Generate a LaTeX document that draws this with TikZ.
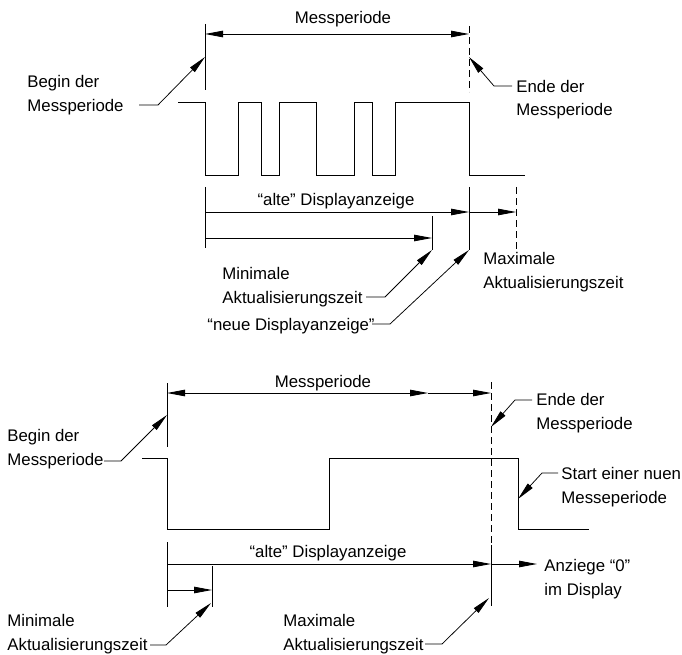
\documentclass[tikz,border=0pt]{standalone}
\usepackage{fontspec}
\setmainfont{Liberation Sans}
\usetikzlibrary{arrows.meta}
\begin{document}
\begin{tikzpicture}[x=1pt,y=-1pt,
  line width=0.85pt,
  lbl/.style={inner sep=0pt, align=left, anchor=base west, font=\fontsize{16.8}{23.5}\selectfont},
  ctr/.style={inner sep=0pt, anchor=base, font=\fontsize{16.8}{23.5}\selectfont},
  tip/.style={-{Triangle[length=18pt,width=6.5pt]}},
  dtip/.style={{Triangle[length=18pt,width=6.5pt]}-{Triangle[length=18pt,width=6.5pt]}},
  leader/.style={line width=0.75pt,-{Triangle[length=18pt,width=6.5pt]}},
  dashln/.style={dash pattern=on 7pt off 4pt}
]
\useasboundingbox (0,0) rectangle (682,655);

% ================= TOP DIAGRAM =================
\coordinate (tL1) at (205,24);  \coordinate (tL2) at (205,90);
\coordinate (tR1) at (469,26);  \coordinate (tR2) at (469,92);
\draw (tL1) -- (tL2);
\draw[dashln] (tR1) -- (tR2);
\coordinate (tMa) at (205,34);  \coordinate (tMb) at (469,34);
\draw[dtip] (tMa) -- (tMb);
\node[ctr] (tMtxt) at (343,24) {Messperiode};

% signal
\draw (178,102) -| (205,175) -| (238,102) -| (261,175) -| (279,102)
      -| (316,175) -| (354,102) -| (372,175) -| (395,102) -| (469,175) -- (525,175);

% Begin der Messperiode (base = last line)
\node[lbl] (tBegin) at (27,111.5) {Begin der\\Messperiode};
\coordinate (tBa) at (139,105); \coordinate (tBb) at (158,105); \coordinate (tBt) at (205,57);
\draw[leader] (tBa) -- (tBb) -- (tBt);

% Ende der Messperiode
\node[lbl] (tEnde) at (516,116) {Ende der\\Messperiode};
\coordinate (tEa) at (512,86); \coordinate (tEb) at (494,86); \coordinate (tEt) at (469,57);
\draw[leader] (tEa) -- (tEb) -- (tEt);

% lower part
\coordinate (tL3) at (205,187); \coordinate (tL4) at (205,248);
\draw (tL3) -- (tL4);
\coordinate (tV1) at (469,187); \coordinate (tV2) at (469,250);
\draw (tV1) -- (tV2);
\coordinate (tD1) at (516,187); \coordinate (tD2) at (516,250);
\draw[dashln] (tD1) -- (tD2);
\coordinate (tAa) at (205,212); \coordinate (tAb) at (469,212); \coordinate (tAc) at (516,212);
\draw[tip] (tAa) -- (tAb);
\draw[tip] (tAb) -- (tAc);
\node[ctr] (tAlte) at (336,205) {“alte” Displayanzeige};

\coordinate (tNa) at (205,238); \coordinate (tNb) at (432,238);
\draw[tip] (tNa) -- (tNb);
\coordinate (tN1) at (432,216); \coordinate (tN2) at (432,250);
\draw (tN1) -- (tN2);

\node[lbl] (tMin) at (222,303) {Minimale\\Aktualisierungszeit};
\coordinate (tMia) at (366,297); \coordinate (tMib) at (385,297);
\draw[leader] (tMia) -- (tMib) -- (tN2);

\node[lbl] (tNeue) at (207,330) {“neue Displayanzeige”};
\coordinate (tNea) at (372,324); \coordinate (tNeb) at (390,324);
\draw[leader] (tNea) -- (tNeb) -- (tV2);

\node[lbl] (tMax) at (483,288) {Maximale\\Aktualisierungszeit};

% ================= BOTTOM DIAGRAM =================
\coordinate (bL1) at (167,383); \coordinate (bL2) at (167,447);
\draw (bL1) -- (bL2);
\coordinate (bD1) at (491,382); \coordinate (bD2) at (491,545); \coordinate (bD3) at (491,606);
\draw[dashln] (bD1) -- (bD2);
\draw (bD2) -- (bD3);
\coordinate (bMa) at (167,393); \coordinate (bMm) at (428,393); \coordinate (bMb) at (491,393);
\draw[dtip] (bMa) -- (bMm);
\draw[tip] (bMm) -- (bMb);
\node[ctr] (bMtxt) at (323,387) {Messperiode};

% signal
\draw (142,458) -| (167,529) -| (329,458) -| (518,529) -- (589,529);

% Begin der Messperiode
\node[lbl] (bBegin) at (7,465) {Begin der\\Messperiode};
\coordinate (bBa) at (104,461); \coordinate (bBb) at (121,461); \coordinate (bBt) at (167,415);
\draw[leader] (bBa) -- (bBb) -- (bBt);

% Ende der Messperiode
\node[lbl] (bEnde) at (536,429) {Ende der\\Messperiode};
\coordinate (bEa) at (532,400); \coordinate (bEb) at (515,400); \coordinate (bEt) at (491,427);
\draw[leader] (bEa) -- (bEb) -- (bEt);

% Start einer nuen Messeperiode
\node[lbl] (bStart) at (561,503) {Start einer nuen\\Messeperiode};
\coordinate (bSa) at (558,473); \coordinate (bSb) at (542,473); \coordinate (bSt) at (518,499);
\draw[leader] (bSa) -- (bSb) -- (bSt);

% lower part
\coordinate (bL3) at (167,542); \coordinate (bL4) at (167,607);
\draw (bL3) -- (bL4);
\coordinate (bAa) at (167,564); \coordinate (bAb) at (491,564); \coordinate (bAc) at (537,564);
\draw[tip] (bAa) -- (bAb);
\draw[tip] (bAb) -- (bAc);
\node[ctr] (bAlte) at (328,557) {“alte” Displayanzeige};
\node[lbl] (bNull) at (544,595) {Anziege “0”\\im Display};

\coordinate (bNa) at (167,590); \coordinate (bNb) at (212,590);
\draw[tip] (bNa) -- (bNb);
\coordinate (bN1) at (212,566); \coordinate (bN2) at (212,607);
\draw (bN1) -- (bN2);

\node[lbl] (bMin) at (7,650) {Minimale\\Aktualisierungszeit};
\coordinate (bMia) at (150,645); \coordinate (bMib) at (166,645); \coordinate (bMit) at (211,603);
\draw[leader] (bMia) -- (bMib) -- (bMit);

\node[lbl] (bMax) at (283,650) {Maximale\\Aktualisierungszeit};
\coordinate (bMxa) at (425,644); \coordinate (bMxb) at (442,644); \coordinate (bMxt) at (489,598);
\draw[leader] (bMxa) -- (bMxb) -- (bMxt);
\end{tikzpicture}
\end{document}
